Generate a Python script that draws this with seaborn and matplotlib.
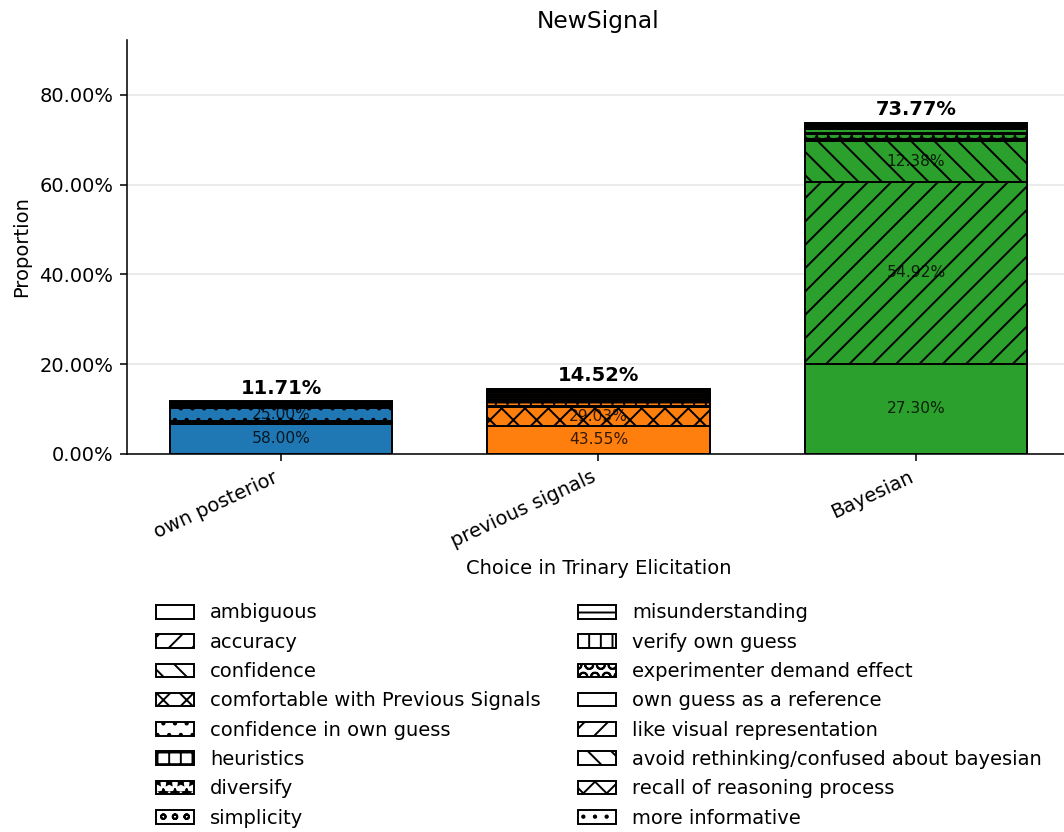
import numpy as np
import matplotlib
matplotlib.use("Agg")
import matplotlib.pyplot as plt
from matplotlib.patches import Patch
from matplotlib.ticker import PercentFormatter
import seaborn as sns

# Choices and free-text reasons (counts of participants per reason)
choices = ["own posterior", "previous signals", "Bayesian"]
reasons = [
    "ambiguous", "accuracy", "confidence", "comfortable with Previous Signals",
    "confidence in own guess", "heuristics", "diversify", "simplicity",
    "misunderstanding", "verify own guess", "experimenter demand effect",
    "own guess as a reference", "like visual representation",
    "avoid rethinking/confused about bayesian", "recall of reasoning process",
    "more informative",
]
counts_own_posterior = [58, 3, 0, 2, 25, 2, 2, 1, 2, 1, 2, 1, 0, 0, 1, 0]
counts_previous_signals = [54, 0, 0, 36, 2, 8, 3, 2, 4, 3, 3, 3, 2, 1, 2, 1]
counts_bayesian = [172, 346, 78, 0, 2, 1, 10, 2, 7, 3, 3, 2, 1, 1, 1, 1]
hatch_cycle = ['', '//', '\\\\', 'xx', '..', '++', '**', 'oo', '--', '||', 'OO']

counts = np.array([counts_own_posterior, counts_previous_signals, counts_bayesian])
grand_total = counts.sum()
choice_totals = counts.sum(axis=1)

sns.set_style("ticks")
plt.rcParams.update({
    "hatch.linewidth": 1.0,
    "text.color": "black",
    "axes.labelcolor": "black",
    "xtick.color": "black",
    "ytick.color": "black",
    "axes.edgecolor": "black",
})
colors = sns.color_palette("tab10", 3)

W, H, DPI = 1064, 832, 140
fig = plt.figure(figsize=(W / DPI, H / DPI), dpi=DPI)
ax = fig.add_axes([127 / W, 1 - 454 / H, (1070 - 127) / W, (454 - 40) / H])

x = np.arange(len(choices))
bottoms = np.zeros(len(choices))
for j, reason in enumerate(reasons):
    heights = counts[:, j] / grand_total
    hatch = hatch_cycle[j % len(hatch_cycle)]
    for i in range(len(choices)):
        if counts[i, j] == 0:
            continue
        ax.bar(x[i], heights[i], bottom=bottoms[i], width=0.7,
               color=colors[i], edgecolor="black", linewidth=1.0, hatch=hatch)
        share = counts[i, j] / choice_totals[i]
        if share >= 0.10:
            ax.text(x[i], bottoms[i] + heights[i] / 2, f"{share * 100:.2f}%",
                    ha="center", va="center", fontsize=8, color="black", alpha=0.8)
    bottoms += heights

for i in range(len(choices)):
    tot = choice_totals[i] / grand_total
    ax.text(x[i], tot + 0.008, f"{tot * 100:.2f}%", ha="center", va="bottom",
            fontsize=10, fontweight="bold")

ax.set_xlim(-0.485, 2.485)
ax.set_ylim(0, bottoms.max() * 1.25)
ax.yaxis.set_major_formatter(PercentFormatter(1.0, decimals=2))
ax.set_yticks([0, 0.2, 0.4, 0.6, 0.8])
ax.set_xticks(x)
ax.set_xticklabels(choices, rotation=25, ha="right")
ax.yaxis.grid(True, color="#e6e6e6", linewidth=0.8)
ax.set_axisbelow(True)
sns.despine(ax=ax)

ax.set_title("NewSignal", fontsize=12)
ax.set_ylabel("Proportion")
ax.set_xlabel("Choice in Trinary Elicitation")

handles = [Patch(facecolor="white", edgecolor="black",
                 hatch=hatch_cycle[j % len(hatch_cycle)], label=r)
           for j, r in enumerate(reasons)]
fig.legend(handles=handles, loc="upper left", ncol=2, frameon=False,
           labelspacing=0.53, columnspacing=1.9,
           bbox_to_anchor=(138 / W, 1 - 586 / H))

fig.savefig("out.png", dpi=DPI)
